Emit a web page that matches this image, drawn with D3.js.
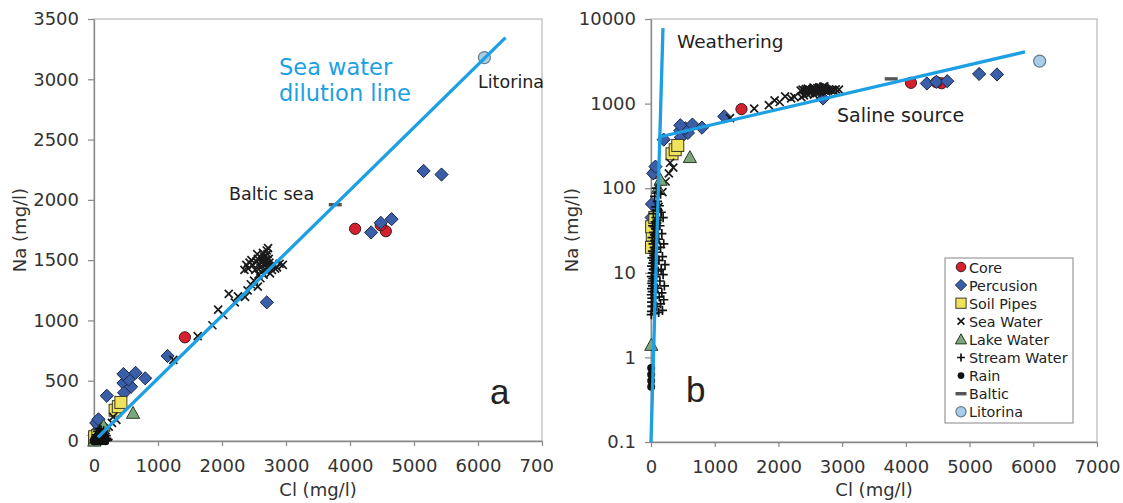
<!DOCTYPE html>
<html><head><meta charset="utf-8">
<script src="https://cdn.jsdelivr.net/npm/d3@7"></script>
<style>body{margin:0;background:#fff}svg{display:block}text{font-family:"DejaVu Sans",Verdana,sans-serif}</style>
</head><body>
<script>
// ---------- DATA (Cl mg/l, Na mg/l) ----------
const xTicks = [0,1000,2000,3000,4000,5000,6000,7000];
const yTicksLin = [0,500,1000,1500,2000,2500,3000,3500];
const yTicksLog = [0.1,1,10,100,1000,10000];
const seriesNames = ["Core","Percusion","Soil Pipes","Sea Water","Lake Water","Stream Water","Rain","Baltic","Litorina"];

const core = [[50,150],[1420,860],[4080,1760],[4560,1740],[4480,1790]];
const percusion = [[10,45],[15,65],[35,150],[70,180],[200,375],[460,480],[470,400],[580,450],[540,510],[460,555],[650,565],[800,520],[1150,705],[2700,1150],[4330,1730],[4480,1810],[4650,1840],[5150,2240],[5430,2210]];
const soilPipes = [[8,20],[20,28],[10,35],[60,45],[330,255],[380,285],[420,320]];
const seaWater = [[120,60],[180,90],[230,120],[280,150],[350,175],[300,200],[1240,672],[1620,870],[1850,960],[1940,1090],[2020,1045],[2105,1220],[2200,1150],[2250,1200],[2360,1195],[2400,1250],[2450,1300],[2500,1330],[2560,1280],[2600,1350],[2650,1380],[2350,1420],[2380,1460],[2410,1430],[2430,1480],[2460,1500],[2480,1460],[2520,1420],[2540,1490],[2560,1510],[2580,1470],[2600,1440],[2610,1520],[2630,1490],[2650,1460],[2660,1530],[2680,1500],[2700,1470],[2710,1550],[2720,1440],[2730,1510],[2740,1480],[2760,1450],[2780,1420],[2800,1460],[2830,1430],[2860,1440],[2900,1470],[2950,1460],[2720,1600],[2620,1400],[2570,1380],[2680,1420],[2750,1390],[2640,1560],[2700,1580],[2550,1550]];
const lakeWater = [[5,1.4],[110,100],[150,125],[610,232]];
const streamWater = [[5,3.2],[60,3.3],[120,3.4],[180,3.6],[8,3.5],[12,4],[90,4],[150,4.3],[30,4],[200,4.8],[10,4.5],[45,5],[130,5.2],[15,5],[6,5.5],[170,5.8],[55,6],[20,6],[9,6.5],[100,6.6],[210,7],[62,7],[25,7],[14,7.5],[140,8],[18,8],[30,8.5],[7,9],[190,9.5],[70,9],[22,10],[110,10.5],[160,11],[35,11],[48,11],[11,12],[220,12.5],[28,13],[58,13],[125,14],[40,14],[16,15],[180,15.5],[45,16],[36,17],[95,17.5],[24,18],[66,19],[150,20],[50,20],[33,22],[200,22],[78,23],[60,24],[120,25],[19,26],[55,28],[170,29],[42,30],[70,33],[52,35],[140,36],[26,36],[65,40],[95,42],[190,45],[80,45],[38,50],[160,52],[90,55],[75,60],[130,62],[100,70],[58,80],[150,85],[110,90],[85,100]];
const rain = [[3,0.45],[3,0.53],[3,0.63],[3,0.75]];
const baltic = [[3770,1960]];
const litorina = [[6100,3180]];

const dilutionLine = [[60,30],[6430,3345]];
const weatheringLine = [[0,0.1],[188,7800]];
const salineLine = [[115,400],[5870,4080]];

// ---------- STYLE ----------
const BLUE = "#1c9fe3";
const typeOf = {"Core":"core","Percusion":"perc","Soil Pipes":"soil","Sea Water":"sea","Lake Water":"lake","Stream Water":"stream","Rain":"rain","Baltic":"baltic","Litorina":"lito"};
const seriesData = [core,percusion,soilPipes,seaWater,lakeWater,streamWater,rain,baltic,litorina];

function drawMarker(g, type, x, y, k) {
  k = k || 1;
  if (type === "core") g.append("circle").attr("cx",x).attr("cy",y).attr("r",5.6*k).attr("fill","#d6202e").attr("stroke","#3a1a1a").attr("stroke-width",1);
  else if (type === "perc") { const s=6.6*k; g.append("path").attr("d",`M${x},${y-s}L${x+s},${y}L${x},${y+s}L${x-s},${y}Z`).attr("fill","#3b5ea8").attr("stroke","#1a2a4a").attr("stroke-width",1); }
  else if (type === "soil") { const s=6*k; g.append("rect").attr("x",x-s).attr("y",y-s).attr("width",2*s).attr("height",2*s).attr("fill","#f0e25a").attr("stroke","#3a3a2a").attr("stroke-width",1); }
  else if (type === "sea") { const s=4*k; g.append("path").attr("d",`M${x-s},${y-s}L${x+s},${y+s}M${x-s},${y+s}L${x+s},${y-s}`).attr("stroke","#1a1a1a").attr("stroke-width",1.7); }
  else if (type === "lake") { const s=6.6*k; g.append("path").attr("d",`M${x},${y-s}L${x+s},${y+s*0.8}L${x-s},${y+s*0.8}Z`).attr("fill","#7da67b").attr("stroke","#2a3a2a").attr("stroke-width",1); }
  else if (type === "stream") { const s=4.6*k; g.append("path").attr("d",`M${x-s},${y}L${x+s},${y}M${x},${y-s}L${x},${y+s}`).attr("stroke","#111").attr("stroke-width",1.7); }
  else if (type === "rain") g.append("circle").attr("cx",x).attr("cy",y).attr("r",4*k).attr("fill","#111");
  else if (type === "baltic") g.append("path").attr("d",`M${x-6.5*k},${y}L${x+6.5*k},${y}`).attr("stroke","#555").attr("stroke-width",3.4);
  else if (type === "lito") g.append("circle").attr("cx",x).attr("cy",y).attr("r",6*k).attr("fill","#a9cde9").attr("stroke","#6a7a88").attr("stroke-width",1.2);
}

const svg = d3.select("body").append("svg").attr("width",1123).attr("height",503);
const defs = svg.append("defs");
defs.append("clipPath").attr("id","leftclip").append("rect").attr("x",0).attr("y",0).attr("width",553).attr("height",503);

function panel(g, x, y, yTicks, yFmt, lines) {
  const [x0,x1] = x.range(), [y0,y1] = y.range();
  g.append("rect").attr("x",x0).attr("y",y1).attr("width",x1-x0).attr("height",y0-y1).attr("fill","none").attr("stroke","#b8b8b8").attr("stroke-width",1.2);
  const xa = g.append("g").attr("transform",`translate(0,${y0})`).call(d3.axisBottom(x).tickValues(xTicks).tickSize(5).tickSizeOuter(0).tickPadding(13).tickFormat(d3.format("d")));
  const ya = g.append("g").attr("transform",`translate(${x0},0)`).call(d3.axisLeft(y).tickValues(yTicks).tickSize(6).tickSizeOuter(0).tickPadding(9).tickFormat(yFmt));
  [xa,ya].forEach(a=>{ a.select(".domain").attr("stroke","#888").attr("stroke-width",1.3);
    a.selectAll(".tick line").attr("stroke","#888").attr("stroke-width",1.2);
    a.selectAll("text").attr("fill","#333").style("font-size","18px").style("font-family","DejaVu Sans, Verdana, sans-serif"); });
  const pg = g.append("g");
  seriesNames.forEach((n,i)=>{ seriesData[i].forEach(d=>drawMarker(pg, typeOf[n], x(d[0]), y(d[1]))); });
  const lg = d3.line().x(d=>x(d[0])).y(d=>y(d[1]));
  lines.forEach(l=>g.append("path").attr("d",lg(l)).attr("fill","none").attr("stroke",BLUE).attr("stroke-width",3.3));
}

// ---- Left panel (linear) ----
const gl = svg.append("g").attr("clip-path","url(#leftclip)");
const xl = d3.scaleLinear().domain([0,7000]).range([94,542]);
const yl = d3.scaleLinear().domain([0,3500]).range([441,19]);
panel(gl, xl, yl, yTicksLin, d3.format("d"), [dilutionLine]);
gl.append("text").attr("x",318).attr("y",496).attr("text-anchor","middle").attr("fill","#333").style("font-size","18px").text("Cl (mg/l)");
gl.append("text").attr("transform","translate(26,230) rotate(-90)").attr("text-anchor","middle").attr("fill","#333").style("font-size","18px").text("Na (mg/l)");
gl.append("text").attr("x",279).attr("y",75).attr("fill",BLUE).style("font-size","22.5px").text("Sea water");
gl.append("text").attr("x",279).attr("y",101).attr("fill",BLUE).style("font-size","22.5px").text("dilution line");
gl.append("text").attr("x",478).attr("y",88).attr("fill","#222").style("font-size","17.5px").text("Litorina");
gl.append("text").attr("x",229).attr("y",200).attr("fill","#222").style("font-size","17.5px").text("Baltic sea");
gl.append("text").attr("x",490).attr("y",404).attr("fill","#222").style("font-size","35px").style("font-family","Liberation Sans, Arial, sans-serif").text("a");

// ---- Right panel (log) ----
const gr = svg.append("g");
const xr = d3.scaleLinear().domain([0,7000]).range([651,1097]);
const yr = d3.scaleLog().domain([0.1,10000]).range([442,19]);
panel(gr, xr, yr, yTicksLog, d=> d<1 ? "0.1" : d3.format("d")(d), [weatheringLine, salineLine]);
gr.append("text").attr("x",874).attr("y",496).attr("text-anchor","middle").attr("fill","#333").style("font-size","18px").text("Cl (mg/l)");
gr.append("text").attr("transform","translate(578,230) rotate(-90)").attr("text-anchor","middle").attr("fill","#333").style("font-size","18px").text("Na (mg/l)");
gr.append("text").attr("x",677).attr("y",48).attr("fill","#222").style("font-size","18.5px").text("Weathering");
gr.append("text").attr("x",837).attr("y",122).attr("fill","#222").style("font-size","19px").text("Saline source");
gr.append("text").attr("x",686).attr("y",402).attr("fill","#222").style("font-size","35px").style("font-family","Liberation Sans, Arial, sans-serif").text("b");

// legend
const lgd = gr.append("g");
lgd.append("rect").attr("x",945).attr("y",258).attr("width",128).attr("height",165).attr("fill","#fff").attr("stroke","#999").attr("stroke-width",1.2);
seriesNames.forEach((n,i)=>{
  const yy = 267 + i*18.1;
  drawMarker(lgd, typeOf[n], 961, yy, 0.85);
  lgd.append("text").attr("x",969).attr("y",yy+5.5).attr("fill","#222").style("font-size","14.3px").text(n);
});
</script>
</body></html>
